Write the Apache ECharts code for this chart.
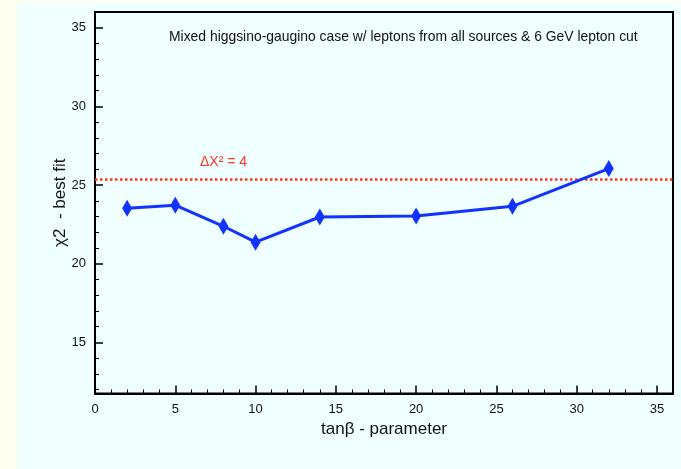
<!DOCTYPE html>
<html>
<head>
<meta charset="utf-8">
<script src="https://cdn.jsdelivr.net/npm/echarts@6/dist/echarts.min.js"></script>
<style>
html,body{margin:0;padding:0;background:#fffff0;}
#chart{width:681px;height:469px;}
</style>
</head>
<body>
<div id="chart"></div>
<script>
// Data
const tanBeta = [2, 5, 8, 10, 14, 20, 26, 32];
const chi2 = [23.53, 23.72, 22.38, 21.37, 22.97, 23.03, 23.65, 26.05];
const deltaLine = 25.37;
const titleText = 'Mixed higgsino-gaugino case w/ leptons from all sources & 6 GeV lepton cut';
const deltaLabel = 'ΔX² = 4';
const xName = 'tanβ - parameter';
const yName = 'χ2  - best fit';

const chart = echarts.init(document.getElementById('chart'), null, {renderer: 'canvas'});
const font = '"Liberation Sans", Arial, Helvetica, sans-serif';
const seriesData = tanBeta.map((x, i) => [x, chi2[i]]);

chart.setOption({
  backgroundColor: '#fffff0',
  animation: false,
  textStyle: {fontFamily: font},
  graphic: [
    {type: 'rect', z: -10, silent: true, shape: {x: 17, y: 2, width: 700, height: 480}, style: {fill: '#f0ffff'}},
    {type: 'text', left: 169, top: 30, z: 10, style: {text: titleText, fill: '#111', fontSize: 13.9, fontFamily: font}},
    {type: 'text', left: 200, top: 155, z: 10, style: {text: deltaLabel, fill: '#ff3322', fontSize: 14, fontFamily: font}}
  ],
  grid: {
    left: 95, right: 8, top: 12, bottom: 75.5,
    show: true, borderColor: '#000', borderWidth: 2, backgroundColor: 'transparent'
  },
  xAxis: {
    type: 'value', min: 0, max: 36, interval: 5,
    name: xName, nameLocation: 'middle', nameGap: 27,
    nameTextStyle: {fontSize: 17, color: '#111', fontFamily: font},
    axisLine: {show: true, lineStyle: {color: '#000', width: 2}},
    axisTick: {show: true, inside: true, length: 8, lineStyle: {color: '#000', width: 1.5}},
    minorTick: {show: true, splitNumber: 5, length: 4, lineStyle: {color: '#000', width: 1}},
    axisLabel: {fontSize: 13, color: '#111', margin: 9, fontFamily: font,
      formatter: v => (v % 5 === 0 ? String(v) : '')},
    splitLine: {show: false}
  },
  yAxis: {
    type: 'value', min: 11.75, max: 36, splitNumber: 5,
    name: yName, nameLocation: 'middle', nameGap: 26, nameRotate: 90, nameMoveOverlap: false,
    nameTextStyle: {fontSize: 17, color: '#111', fontFamily: font},
    axisLine: {show: true, lineStyle: {color: '#000', width: 2}},
    axisTick: {show: true, inside: true, length: 8, lineStyle: {color: '#000', width: 1.5}},
    minorTick: {show: true, splitNumber: 5, length: 4, lineStyle: {color: '#000', width: 1}},
    axisLabel: {fontSize: 13, color: '#111', margin: 9, fontFamily: font,
      formatter: v => (Math.abs(v % 5) < 1e-9 ? String(v) : '')},
    splitLine: {show: false}
  },
  series: [{
    type: 'line',
    data: seriesData,
    symbol: 'diamond',
    symbolSize: [10, 17],
    lineStyle: {color: '#1133ff', width: 3},
    itemStyle: {color: '#1133ff'},
    z: 5,
    markLine: {
      silent: true,
      symbol: ['none', 'none'],
      label: {show: false},
      lineStyle: {color: '#ff3322', type: [2.5, 2.5], width: 2.5},
      data: [{yAxis: deltaLine}],
      z: 4
    }
  }]
});
</script>
</body>
</html>
